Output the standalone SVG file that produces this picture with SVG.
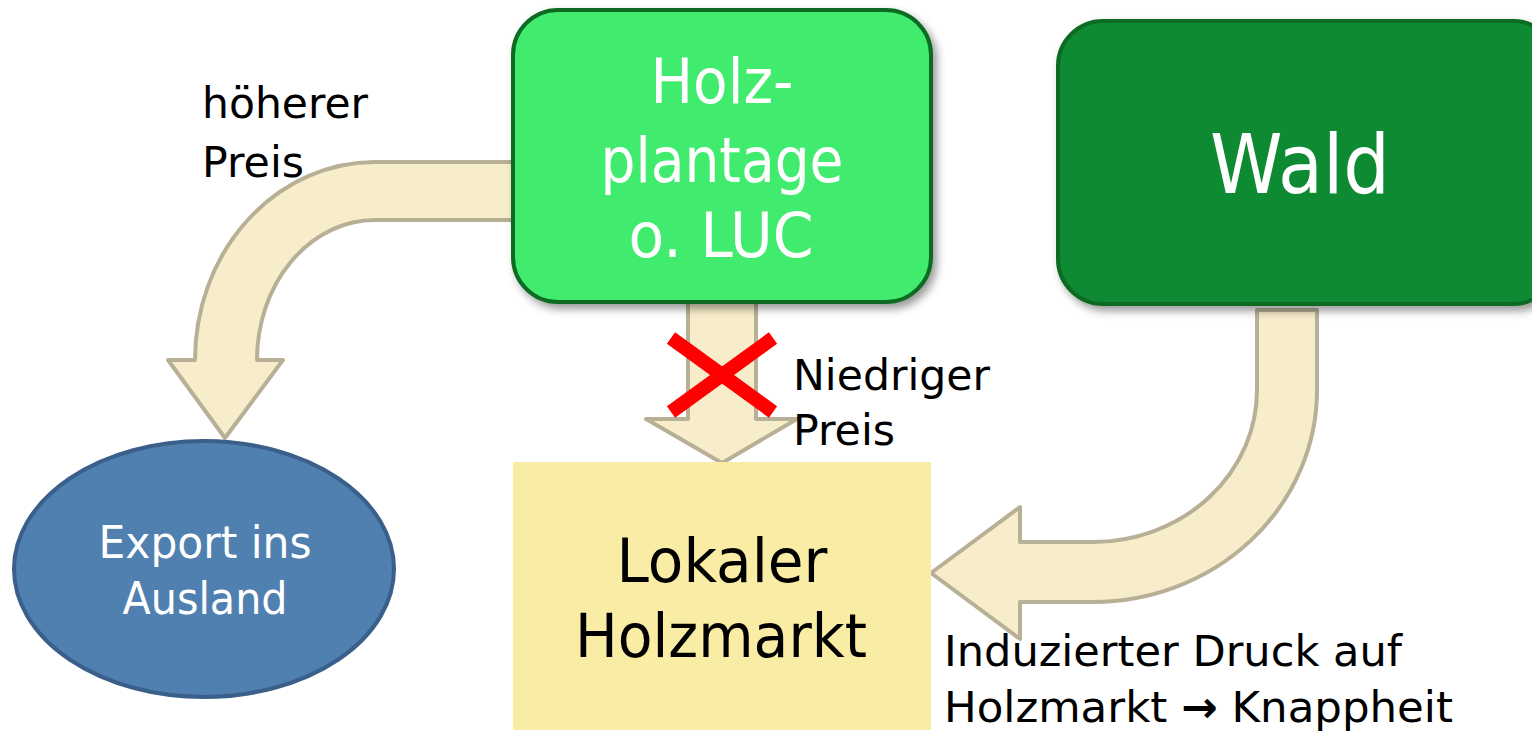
<svg xmlns="http://www.w3.org/2000/svg" width="1532" height="734" viewBox="0 0 1532 734">
<defs>
<filter id="sh" x="-10%" y="-10%" width="130%" height="130%">
<feDropShadow dx="4" dy="5" stdDeviation="4" flood-color="#000" flood-opacity="0.4"/>
</filter>
</defs>
<style>
.arrow{fill:#F8EDCB;stroke:#B8B096;stroke-width:4;stroke-linejoin:round}
.t{font-family:"DejaVu Sans","Liberation Sans",sans-serif}
.w{fill:#FFFFFF}
.b{fill:#000000}
.lbl{font-size:43px}
</style>
<g id="connectors">
<path class="arrow" d="M514,162 L375,162 A180,198 0 0 0 195,360 L168,360 L225,438 L283,360 L257,360 A118,140 0 0 1 375,220 L514,220 Z"/>
<path class="arrow" d="M688,298 L756,298 L756,419 L797,419 L722,463 L646,419 L688,419 Z"/>
<path class="arrow" d="M1257,310 L1317,310 L1317,390 A224,212 0 0 1 1093,602 L1020,602 L1020,639 L931,573 L1020,507 L1020,542 L1093,542 A164,152 0 0 0 1257,390 Z"/>
<g id="cross" stroke="#FF0000" stroke-width="14">
<line x1="671" y1="338" x2="773" y2="412"/>
<line x1="773" y1="338" x2="671" y2="412"/>
</g>
</g>
<g id="holzplantage">
<rect x="513" y="10" width="418" height="292" rx="45" fill="#40EB6E" stroke="#0B6A20" stroke-width="4" filter="url(#sh)"/>
<text class="t w" font-size="63" text-anchor="middle" x="722" y="103" textLength="143" lengthAdjust="spacingAndGlyphs">Holz-</text>
<text class="t w" font-size="63" text-anchor="middle" x="722" y="182" textLength="243" lengthAdjust="spacingAndGlyphs">plantage</text>
<text class="t w" font-size="63" text-anchor="middle" x="721" y="257" textLength="185" lengthAdjust="spacingAndGlyphs">o. LUC</text>
</g>
<g id="wald">
<rect x="1058" y="21" width="500" height="283" rx="45" fill="#108A30" stroke="#0B6A20" stroke-width="4" filter="url(#sh)"/>
<text class="t w" font-size="82" text-anchor="middle" x="1300" y="193" textLength="180" lengthAdjust="spacingAndGlyphs">Wald</text>
</g>
<g id="markt">
<rect x="513" y="462" width="418" height="268" fill="#F9ECA5"/>
<text class="t b" font-size="60" text-anchor="middle" x="722" y="582" textLength="211" lengthAdjust="spacingAndGlyphs">Lokaler</text>
<text class="t b" font-size="60" text-anchor="middle" x="721" y="657" textLength="292" lengthAdjust="spacingAndGlyphs">Holzmarkt</text>
</g>
<g id="export">
<ellipse cx="204" cy="569" rx="190" ry="128" fill="#5080B0" stroke="#3A5F8A" stroke-width="4"/>
<text class="t w" font-size="44" text-anchor="middle" x="205" y="558" textLength="213" lengthAdjust="spacingAndGlyphs">Export ins</text>
<text class="t w" font-size="44" text-anchor="middle" x="205" y="614" textLength="165" lengthAdjust="spacingAndGlyphs">Ausland</text>
</g>
<g id="labels">
<text class="t b lbl" x="202" y="118" textLength="166" lengthAdjust="spacingAndGlyphs">höherer</text>
<text class="t b lbl" x="202" y="177" textLength="102" lengthAdjust="spacingAndGlyphs">Preis</text>
<text class="t b lbl" x="793" y="390" textLength="197" lengthAdjust="spacingAndGlyphs">Niedriger</text>
<text class="t b lbl" x="793" y="445" textLength="102" lengthAdjust="spacingAndGlyphs">Preis</text>
<text class="t b lbl" x="944" y="666" textLength="458" lengthAdjust="spacingAndGlyphs">Induzierter Druck auf</text>
<text class="t b lbl" x="944" y="722" textLength="509" lengthAdjust="spacingAndGlyphs">Holzmarkt <tspan font-weight="bold">→</tspan> Knappheit</text>
</g>
</svg>
